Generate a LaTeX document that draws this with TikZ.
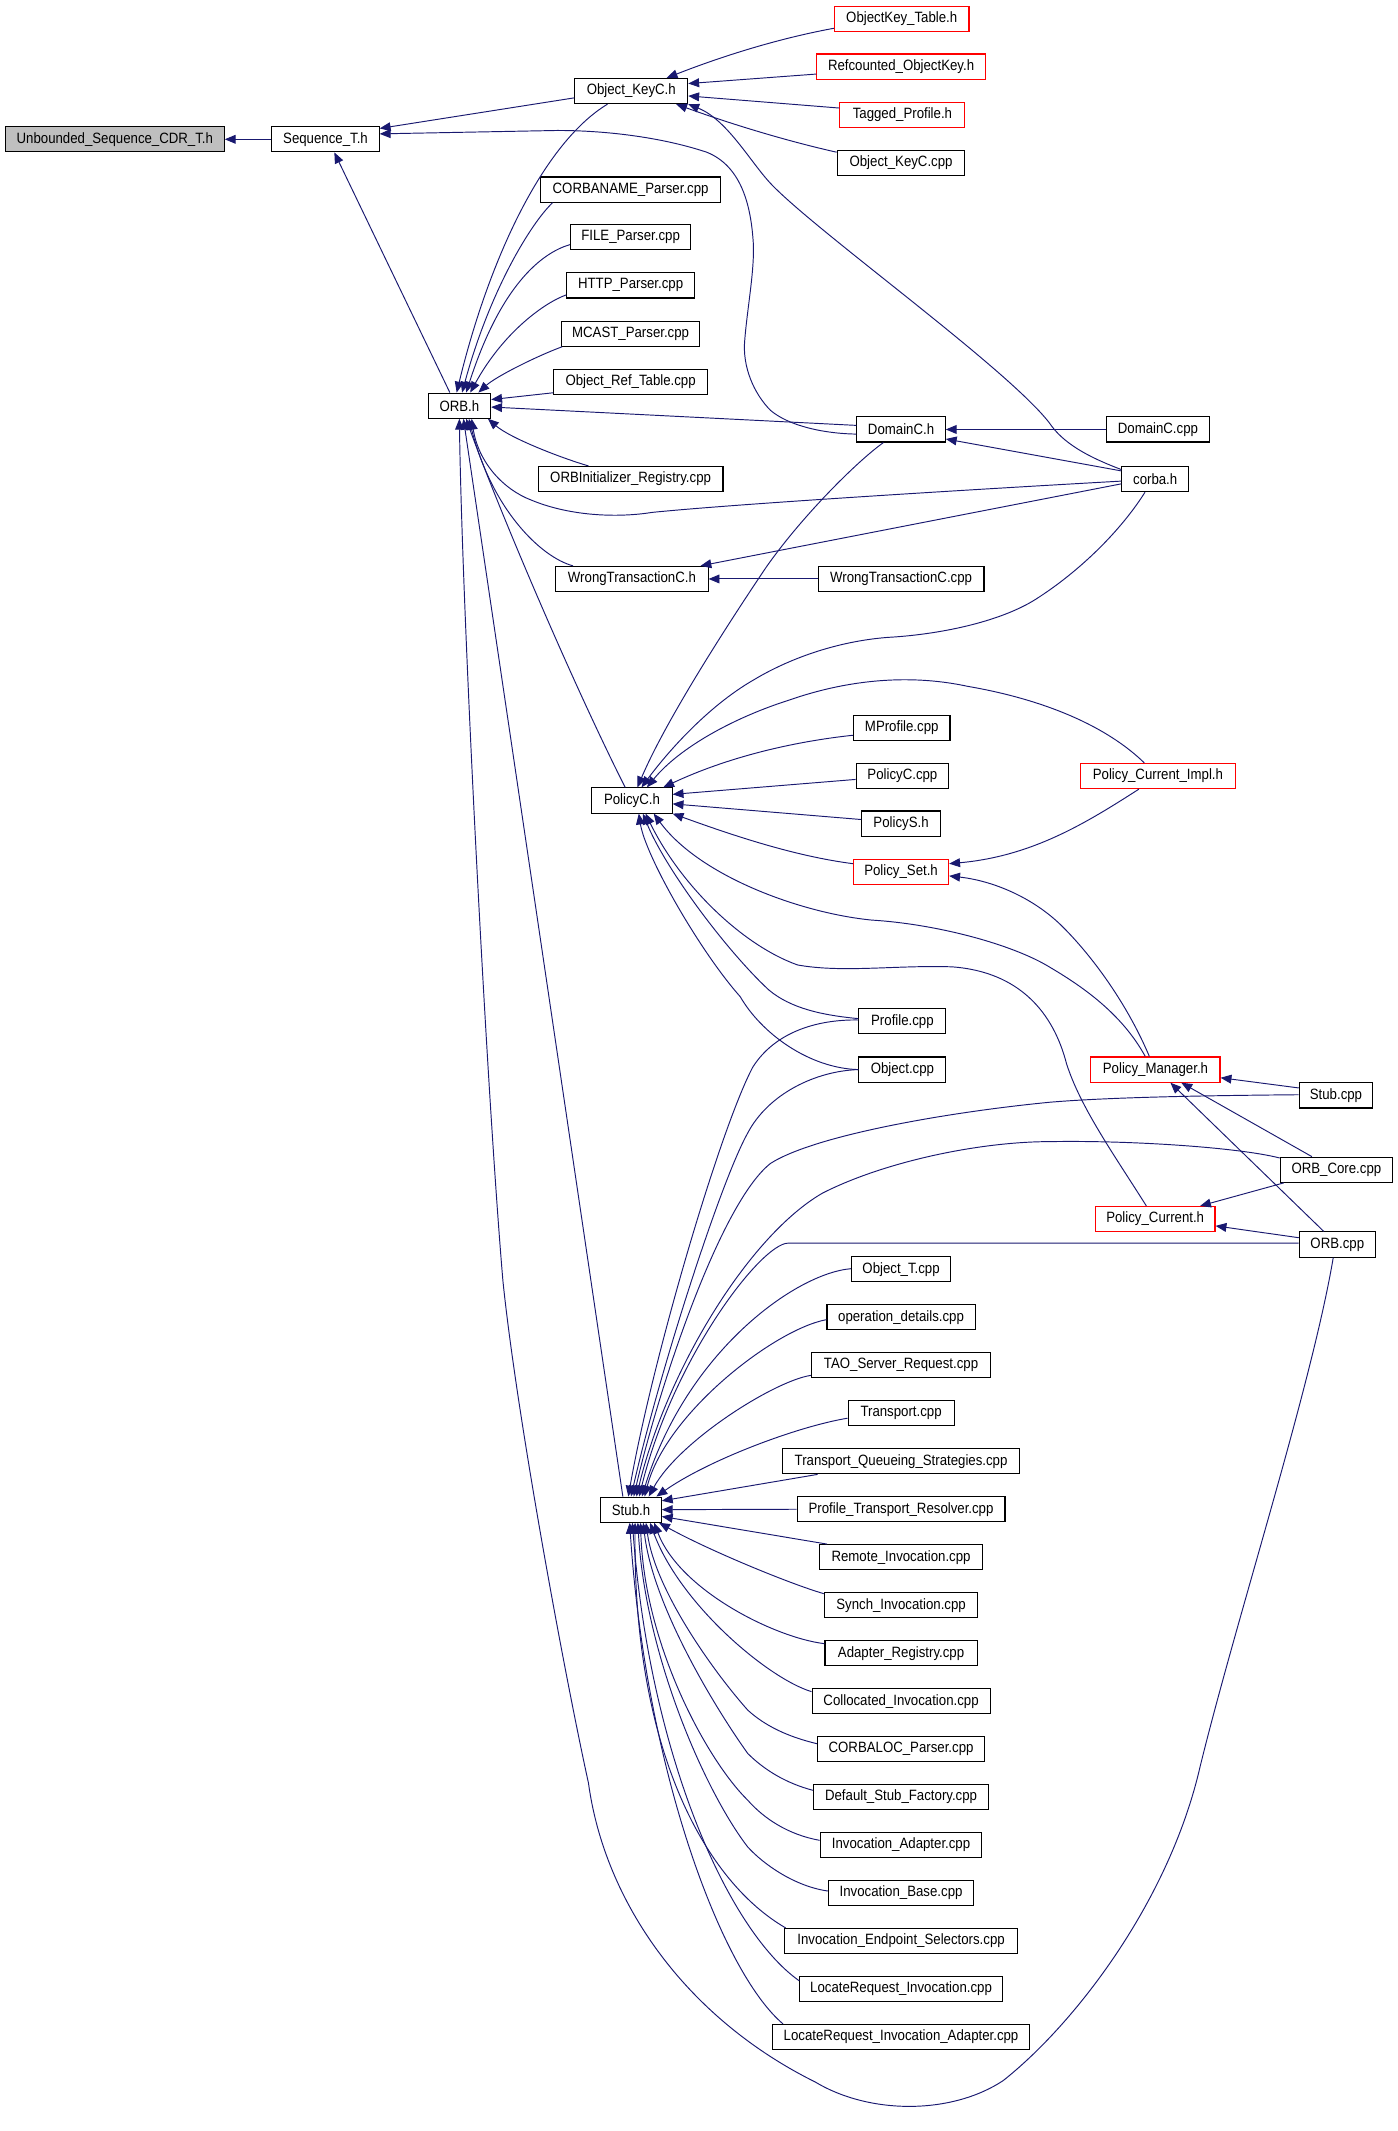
\documentclass[tikz,border=0pt]{standalone}
\usepackage{fontspec}
\setmainfont{Liberation Sans}[FakeStretch=0.885]
\usetikzlibrary{arrows.meta,calc}
\definecolor{navy}{HTML}{191970}
\definecolor{boxgray}{HTML}{BFBFBF}
\definecolor{boxred}{HTML}{FF0000}
\begin{document}
\begin{tikzpicture}[x=1pt,y=-1pt,
 box/.style={draw=black, fill=white, line width=0.8pt, minimum height=18.5pt, inner sep=0pt, font=\fontsize{11}{12}\selectfont},
 redbox/.style={box, draw=boxred},
 graybox/.style={box, fill=boxgray},
 dep/.style={draw=navy, line width=0.7pt, -{Triangle[length=8pt,width=6.5pt]}}]
\fill[white] (0,0) rectangle (1028,1568);
\useasboundingbox (0,0) rectangle (1028,1568);
% rank 0-3
\node[graybox, minimum width=161pt] (unb) at (84.5,102.5) {Unbounded\_Sequence\_CDR\_T.h};
\node[box, minimum width=79pt] (seq) at (239.5,102.5) {Sequence\_T.h};
\node[box, minimum width=46pt] (orb) at (338,298.5) {ORB.h};
\node[box, minimum width=83pt] (okh) at (464.5,67) {Object\_KeyC.h};
\node[box, minimum width=132pt] (cnp) at (464,139.5) {CORBANAME\_Parser.cpp};
\node[box, minimum width=88.5pt] (fip) at (464,174.5) {FILE\_Parser.cpp};
\node[box, minimum width=94pt] (htp) at (464,210) {HTTP\_Parser.cpp};
\node[box, minimum width=102pt] (mcp) at (464,245.5) {MCAST\_Parser.cpp};
\node[box, minimum width=113pt] (ort) at (464,281) {Object\_Ref\_Table.cpp};
\node[box, minimum width=136pt] (oir) at (464,352.5) {ORBInitializer\_Registry.cpp};
\node[box, minimum width=112pt] (wth) at (465,426) {WrongTransactionC.h};
\node[box, minimum width=59pt] (pch) at (465,589) {PolicyC.h};
\node[box, minimum width=44.5pt] (stubh) at (464.3,1110.8) {Stub.h};
% rank 4
\node[redbox, minimum width=99pt] (otab) at (663.5,14) {ObjectKey\_Table.h};
\node[redbox, minimum width=124pt] (rcok) at (663,49) {Refcounted\_ObjectKey.h};
\node[redbox, minimum width=92pt] (tagp) at (664,84.5) {Tagged\_Profile.h};
\node[box, minimum width=94pt] (okc) at (663,120) {Object\_KeyC.cpp};
\node[box, minimum width=65pt] (dch) at (663,316) {DomainC.h};
\node[box, minimum width=122pt] (wtc) at (663,426) {WrongTransactionC.cpp};
\node[box, minimum width=71pt] (mpro) at (663.5,535.5) {MProfile.cpp};
\node[box, minimum width=68pt] (pcc) at (664,571) {PolicyC.cpp};
\node[box, minimum width=58pt] (psh) at (663,606) {PolicyS.h};
\node[redbox, minimum width=70pt] (pset) at (663,641.5) {Policy\_Set.h};
\node[box, minimum width=64pt] (prof) at (664,751.5) {Profile.cpp};
\node[box, minimum width=64pt] (objc) at (664,787) {Object.cpp};
\node[box, minimum width=73pt] (objt) at (663,934) {Object\_T.cpp};
\node[box, minimum width=109pt] (opd) at (663,969.3) {operation\_details.cpp};
\node[box, minimum width=132pt] (tao) at (663,1004.6) {TAO\_Server\_Request.cpp};
\node[box, minimum width=78pt] (trc) at (663,1039.9) {Transport.cpp};
\node[box, minimum width=174pt] (tqs) at (663,1075.2) {Transport\_Queueing\_Strategies.cpp};
\node[box, minimum width=153pt] (ptr) at (663,1110.5) {Profile\_Transport\_Resolver.cpp};
\node[box, minimum width=120pt] (ri) at (663,1145.8) {Remote\_Invocation.cpp};
\node[box, minimum width=113pt] (si) at (663,1181.1) {Synch\_Invocation.cpp};
\node[box, minimum width=112pt] (ar) at (663,1216.4) {Adapter\_Registry.cpp};
\node[box, minimum width=131pt] (ci) at (663,1251.7) {Collocated\_Invocation.cpp};
\node[box, minimum width=123pt] (cl) at (663,1287) {CORBALOC\_Parser.cpp};
\node[box, minimum width=129pt] (dsf) at (663,1322.3) {Default\_Stub\_Factory.cpp};
\node[box, minimum width=119pt] (ia) at (663,1357.6) {Invocation\_Adapter.cpp};
\node[box, minimum width=107pt] (ib) at (663,1392.9) {Invocation\_Base.cpp};
\node[box, minimum width=171pt] (ies) at (663,1428.2) {Invocation\_Endpoint\_Selectors.cpp};
\node[box, minimum width=149pt] (lri) at (663,1463.5) {LocateRequest\_Invocation.cpp};
\node[box, minimum width=189pt] (lria) at (663,1498.8) {LocateRequest\_Invocation\_Adapter.cpp};
% rank 5
\node[box, minimum width=76pt] (dcc) at (852,316) {DomainC.cpp};
\node[box, minimum width=49pt] (corba) at (850,352.5) {corba.h};
\node[redbox, minimum width=114pt] (pci) at (852,571) {Policy\_Current\_Impl.h};
\node[redbox, minimum width=95pt] (pmgr) at (850.2,787) {Policy\_Manager.h};
\node[redbox, minimum width=88pt] (pcur) at (850,897) {Policy\_Current.h};
% rank 6
\node[box, minimum width=54pt] (stubc) at (983,806) {Stub.cpp};
\node[box, minimum width=82.5pt] (orbcore) at (983.3,860.7) {ORB\_Core.cpp};
\node[box, minimum width=56pt] (orbcpp) at (984,915.7) {ORB.cpp};

% ---- edges ----
\draw[dep] (seq.west) -- (unb.east);
\draw[dep] ($(okh.west)+(0,5)$) -- ($(seq.east)+(0,-8)$);
\draw[dep] ($(dch.west)+(0,3.4)$) .. controls (605,319) and (580,313) .. (567,302) .. controls (555,290) and (546,270) .. (548,250) .. controls (550,225) and (556,195) .. (554,175) .. controls (552,150) and (545,122) .. (520,112) .. controls (490,102) and (450,96) .. (410,96) -- ($(seq.east)+(0,-4)$);
\draw[dep] ($(orb.north)+(-7,0)$) -- ($(seq.south)+(6.5,0)$);

\draw[dep] ($(otab.west)+(0,6.8)$) .. controls (580,27) and (540,38) .. ($(okh.north)+(26,0)$);
\draw[dep] ($(rcok.west)+(0,5.5)$) -- ($(okh.east)+(0,-5.5)$);
\draw[dep] ($(tagp.west)+(0,-5)$) -- ($(okh.east)+(0,3.6)$);
\draw[dep] ($(okc.west)+(0,-8)$) .. controls (580,104) and (540,92) .. ($(okh.south)+(33,0)$);
\draw[dep] ($(corba.west)+(0,-7)$) .. controls (800,336) and (782,326) .. (772,311) .. controls (740,270) and (600,170) .. (567,135) .. controls (552,119) and (535,88) .. (okh.south east);

\draw[dep] ($(okh.south)+(-17.5,0)$) .. controls (400,105) and (360,190) .. ($(orb.north)+(-2,0)$);
\draw[dep] ($(cnp.south west)+(9,0)$) .. controls (390,165) and (360,215) .. ($(orb.north)+(2,0)$);
\draw[dep] ($(fip.west)+(0,5.5)$) .. controls (402,185) and (370,205) .. ($(orb.north)+(5,0)$);
\draw[dep] ($(htp.west)+(0,7)$) .. controls (400,223) and (370,245) .. ($(orb.north)+(8,0)$);
\draw[dep] ($(mcp.south west)+(1,0)$) .. controls (395,262) and (365,277) .. ($(orb.north)+(14,0)$);
\draw[dep] ($(ort.west)+(0,8)$) -- ($(orb.east)+(0,-4.5)$);
\draw[dep] ($(dch.west)+(0,-3)$) -- ($(orb.east)+(0,1)$);
\draw[dep] ($(oir.north)+(-31,0)$) .. controls (410,336) and (375,322) .. ($(orb.south)+(21,0)$);
\draw[dep] ($(corba.west)+(0,1.5)$) .. controls (700,361) and (540,371) .. (480,377) .. controls (455,381) and (420,380) .. (391,368) .. controls (370,360) and (352,340) .. ($(orb.south)+(9,0)$);
\draw[dep] ($(wth.north west)+(13,0)$) .. controls (398,410) and (362,375) .. ($(orb.south)+(7,0)$);
\draw[dep] ($(pch.north)+(-5,0)$) .. controls (420,500) and (365,370) .. ($(orb.south)+(5,0)$);
\draw[dep] ($(stubh.north)+(-6,0)$) -- ($(orb.south)+(3,0)$);
\draw[dep] ($(orbcpp.south)+(-3,0)$) .. controls (965,1020) and (910,1190) .. (883,1300) .. controls (860,1400) and (790,1490) .. (738,1531) .. controls (700,1556) and (640,1556) .. (600,1532) .. controls (505,1485) and (445,1400) .. (433,1312) .. controls (415,1230) and (380,1040) .. (370,942) .. controls (358,800) and (340,450) .. (orb.south);

\draw[dep] (dcc.west) -- (dch.east);
\draw[dep] ($(corba.west)+(0,-6)$) -- ($(dch.east)+(0,7)$);
\draw[dep] (wtc.west) -- (wth.east);
\draw[dep] ($(corba.west)+(0,3.5)$) -- ($(wth.north east)+(-6,0)$);

\draw[dep] ($(dch.south)+(-13,0)$) .. controls (630,340) and (590,380) .. (564,417) .. controls (535,460) and (490,530) .. ($(pch.north)+(4,0)$);
\draw[dep] ($(corba.south)+(-7.5,0)$) .. controls (825,390) and (795,420) .. (762,441) .. controls (735,458) and (690,467) .. (653,469) .. controls (615,472) and (580,485) .. (555,500) .. controls (520,520) and (490,555) .. ($(pch.north)+(7,0)$);
\draw[dep] ($(pci.north)+(-10,0)$) .. controls (815,535) and (770,515) .. (712,505) .. controls (675,497) and (630,498) .. (581,515) .. controls (540,528) and (500,550) .. ($(pch.north)+(11,0)$);
\draw[dep] ($(mpro.west)+(0,5.5)$) .. controls (590,545) and (540,555) .. ($(pch.north)+(23,0)$);
\draw[dep] ($(pcc.west)+(0,2.5)$) -- ($(pch.east)+(0,-4.5)$);
\draw[dep] ($(psh.west)+(0,-3)$) -- ($(pch.east)+(0,2.5)$);
\draw[dep] ($(pset.west)+(0,-6)$) .. controls (585,630) and (540,615) .. (pch.south east);
\draw[dep] ($(pmgr.north)+(-7.5,0)$) .. controls (825,745) and (795,725) .. (772,711.4) .. controls (745,695) and (690,680) .. (641.5,677) .. controls (590,672) and (515,645) .. ($(pch.south)+(16,0)$);
\draw[dep] ($(prof.west)+(0,-2)$) .. controls (605,747) and (582,742) .. (565.8,728.5) .. controls (535,700) and (490,640) .. ($(pch.south)+(8,0)$);
\draw[dep] (objc.west) .. controls (595,786) and (560,760) .. (544.7,733.4) .. controls (515,700) and (475,630) .. ($(pch.south)+(5,0)$);
\draw[dep] ($(pcur.north)+(-6.5,0)$) .. controls (820,850) and (795,815) .. (784.7,782.5) .. controls (775,745) and (750,715) .. (700.5,711.4) .. controls (660,710) and (620,716) .. (586.8,710) .. controls (545,695) and (500,650) .. ($(pch.south)+(10,0)$);

\draw[dep] ($(pci.south)+(-14,0)$) .. controls (800,605) and (760,630) .. ($(pset.east)+(0,-6)$);
\draw[dep] ($(pmgr.north)+(-4.5,0)$) .. controls (830,740) and (805,705) .. (782,682) .. controls (760,660) and (730,648) .. ($(pset.east)+(0,3)$);

\draw[dep] ($(stubc.west)+(0,-5.5)$) -- ($(pmgr.east)+(0,6)$);
\draw[dep] ($(orbcore.north)+(-18,0)$) -- ($(pmgr.south)+(19,0)$);
\draw[dep] ($(orbcpp.north)+(-10,0)$) -- ($(pmgr.south)+(11,0)$);
\draw[dep] ($(orbcore.south west)+(3,0)$) -- ($(pcur.north)+(33,0)$);
\draw[dep] ($(orbcpp.west)+(0,-5)$) -- ($(pcur.east)+(0,5)$);

% into Stub.h
\draw[dep] ($(prof.west)+(0,-1)$) .. controls (600,750) and (570,760) .. (554,785) .. controls (530,830) and (480,1000) .. ($(stubh.north)+(-2,0)$);
\draw[dep] (objc.west) .. controls (600,788) and (565,805) .. (550,834) .. controls (530,870) and (485,1010) .. (stubh.north);
\draw[dep] ($(stubc.west)+(0,-0.5)$) .. controls (900,806) and (820,807) .. (772.7,811) .. controls (700,818) and (600,835) .. (567,856) .. controls (530,885) and (485,1020) .. ($(stubh.north)+(2,0)$);
\draw[dep] ($(orbcore.north west)+(0,1)$) .. controls (910,844) and (830,839) .. (772.7,840) .. controls (720,840) and (650,855) .. (605,878) .. controls (550,910) and (490,1010) .. ($(stubh.north)+(4,0)$);
\draw[dep] ($(orbcpp.west)+(0,-1)$) -- (580,914.7) .. controls (560,914.7) and (495,1000) .. ($(stubh.north)+(6,0)$);
\draw[dep] ($(objt.west)+(0,-0.5)$) .. controls (585,937) and (505,995) .. ($(stubh.north)+(8,0)$);
\draw[dep] ($(opd.west)+(0,1.7)$) .. controls (570,978) and (490,1040) .. ($(stubh.north)+(10,0)$);
\draw[dep] ($(tao.west)+(0,7.4)$) .. controls (570,1016) and (500,1060) .. ($(stubh.north)+(13,0)$);
\draw[dep] ($(trc.west)+(0,3.6)$) .. controls (585,1050) and (520,1075) .. ($(stubh.north east)+(-4,0)$);
\draw[dep] ($(tqs.south west)+(26,0)$) -- ($(stubh.east)+(0,-6.5)$);
\draw[dep] (ptr.west) -- (stubh.east);
\draw[dep] ($(ri.north west)+(6,0)$) -- ($(stubh.east)+(0,5)$);
\draw[dep] ($(si.west)+(0,-8.5)$) .. controls (580,1165) and (520,1140) .. ($(stubh.south east)+(-2,0)$);
\draw[dep] ($(ar.west)+(0,-7)$) .. controls (570,1205) and (500,1170) .. ($(stubh.south)+(17,0)$);
\draw[dep] ($(ci.west)+(0,-7)$) .. controls (565,1235) and (500,1180) .. ($(stubh.south)+(14,0)$);
\draw[dep] ($(cl.west)+(0,-4)$) .. controls (580,1278) and (563,1270) .. (550.2,1258.3) .. controls (525,1230) and (482,1170) .. ($(stubh.south)+(11,0)$);
\draw[dep] ($(dsf.west)+(0,-5)$) .. controls (578,1312) and (562,1302) .. (550.2,1290.2) .. controls (525,1255) and (480,1180) .. ($(stubh.south)+(9,0)$);
\draw[dep] ($(ia.west)+(0,-3.5)$) .. controls (580,1350) and (562,1338) .. (550.2,1324.6) .. controls (520,1295) and (474,1210) .. ($(stubh.south)+(7,0)$);
\draw[dep] ($(ib.west)+(0,-1.5)$) .. controls (585,1388) and (562,1372) .. (550.2,1359) .. controls (520,1320) and (475,1220) .. ($(stubh.south)+(5,0)$);
\draw[dep] ($(ies.north west)+(1,0)$) .. controls (520,1385) and (466,1290) .. ($(stubh.south)+(3,0)$);
\draw[dep] ($(lri.west)+(0,-6)$) .. controls (535,1420) and (478,1290) .. ($(stubh.south)+(1,0)$);
\draw[dep] ($(lria.north west)+(8,0)$) .. controls (530,1450) and (475,1300) .. ($(stubh.south)+(-1,0)$);
\end{tikzpicture}
\end{document}
